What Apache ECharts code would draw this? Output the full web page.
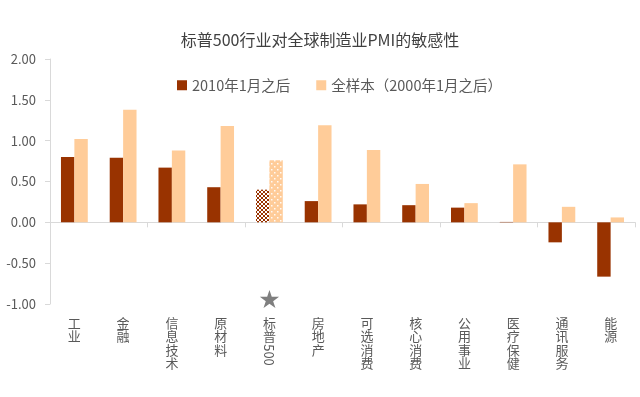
<!DOCTYPE html>
<html>
<head>
<meta charset="utf-8">
<script src="https://cdn.jsdelivr.net/npm/echarts@6/dist/echarts.min.js"></script>
<style>
  html, body { margin: 0; padding: 0; background: #fff; }
  #chart { width: 640px; height: 397px; }
</style>
</head>
<body>
<div id="chart"></div>
<script>
(function() {
  var categories = ['工业', '金融', '信息技术', '原材料', '标普500', '房地产', '可选消费', '核心消费', '公用事业', '医疗保健', '通讯服务', '能源'];
  var since2010 = [0.80, 0.79, 0.67, 0.43, 0.40, 0.26, 0.22, 0.21, 0.18, 0.005, -0.245, -0.665];
  var fullSample = [1.02, 1.38, 0.88, 1.18, 0.76, 1.19, 0.885, 0.47, 0.235, 0.71, 0.19, 0.06];
  var seriesNames = ['2010年1月之后', '全样本（2000年1月之后）'];
  var highlight = '标普500';

  var dark = '#993300';
  var light = '#FFCC99';
  var grey = '#595959';
  var rule = '#d9d9d9';
  var font = '"Noto Sans CJK SC", "Noto Sans", sans-serif';

  // small tiles for the 标普500 bars
  function tile(size, draw) {
    var c = document.createElement('canvas');
    c.width = size; c.height = size;
    draw(c.getContext('2d'));
    return c;
  }
  var hatch = tile(4, function(ctx) {
    ctx.fillStyle = '#fff';
    ctx.fillRect(0, 0, 4, 4);
    ctx.fillStyle = dark;
    [[0,0],[1,1],[2,2],[3,3],[3,0],[2,1],[1,2],[0,3]].forEach(function(p) { ctx.fillRect(p[0], p[1], 1, 1); });
  });
  var dots = tile(6, function(ctx) {
    ctx.fillStyle = light;
    ctx.fillRect(0, 0, 6, 6);
    ctx.fillStyle = 'rgba(255,255,255,0.9)';
    ctx.fillRect(1, 1, 1.5, 1.5);
    ctx.fillRect(4, 4, 1.5, 1.5);
  });

  function withPattern(values, pattern) {
    return values.map(function(v, i) {
      if (categories[i] === highlight) return { value: v, itemStyle: { color: { image: pattern, repeat: 'repeat' } } };
      return v;
    });
  }

  var chart = echarts.init(document.getElementById('chart'));
  chart.setOption({
    animation: false,
    textStyle: { fontFamily: font },
    title: {
      text: '标普500行业对全球制造业PMI的敏感性',
      left: 'center', top: 27,
      textStyle: { fontSize: 16, fontWeight: 'normal', color: '#404040', fontFamily: font }
    },
    legend: {
      top: 73, left: 172,
      icon: 'rect', itemWidth: 10, itemHeight: 10, itemGap: 26,
      textStyle: { fontSize: 14.5, color: grey, fontFamily: font },
      data: seriesNames
    },
    grid: { left: 50, right: 5, top: 59, bottom: 93 },
    xAxis: [{
      type: 'category',
      data: categories,
      axisLine: { onZero: true, lineStyle: { color: rule } },
      axisTick: { show: true, length: 5, lineStyle: { color: rule } },
      axisLabel: { show: false }
    }, {
      type: 'category',
      data: categories,
      position: 'bottom',
      axisLine: { show: false, onZero: false },
      axisTick: { show: false },
      axisLabel: {
        margin: 12, color: grey, fontSize: 13, lineHeight: 13.5, fontFamily: font,
        interval: 0,
        formatter: function(v) {
          if (v === highlight) return '标\n普';
          return v.split('').join('\n');
        }
      }
    }],
    yAxis: {
      type: 'value', min: -1, max: 2, interval: 0.5,
      axisLine: { show: true, lineStyle: { color: rule } },
      axisTick: { show: true, length: 5, lineStyle: { color: rule } },
      splitLine: { show: false },
      axisLabel: {
        margin: 14, color: grey, fontSize: 13, fontFamily: font,
        formatter: function(v) { return v.toFixed(2); }
      }
    },
    series: [{
      name: seriesNames[0], type: 'bar',
      barGap: '0%', barCategoryGap: '45%',
      itemStyle: { color: dark },
      data: withPattern(since2010, hatch)
    }, {
      name: seriesNames[1], type: 'bar',
      barGap: '0%', barCategoryGap: '45%',
      itemStyle: { color: light },
      data: withPattern(fullSample, dots)
    }]
  });

  // star marker and rotated "500" under the 标普500 column
  var cx = chart.convertToPixel({ xAxisIndex: 0 }, highlight);
  var yBottom = chart.convertToPixel({ yAxisIndex: 0 }, -1);
  chart.setOption({
    graphic: [{
      type: 'text', x: cx, y: yBottom - 3,
      style: { text: '★', fill: '#7f7f7f', fontSize: 25, align: 'center', verticalAlign: 'middle', fontFamily: 'DejaVu Sans' }
    }, {
      type: 'text', x: cx, y: yBottom + 51, rotation: -Math.PI / 2,
      style: { text: '500', fill: grey, fontSize: 13, align: 'center', verticalAlign: 'middle', fontFamily: font }
    }]
  });
})();
</script>
</body>
</html>
